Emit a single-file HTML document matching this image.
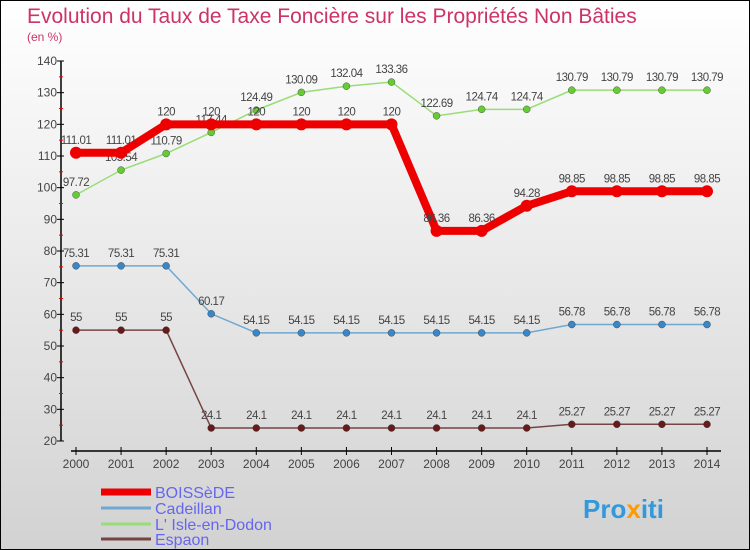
<!DOCTYPE html>
<html><head><meta charset="utf-8"><style>
body{margin:0;}
#wrap{width:750px;height:550px;position:relative;box-sizing:border-box;border:1px solid #000;background:linear-gradient(#ffffff,#d2d2d2);font-family:"Liberation Sans",sans-serif;overflow:hidden}
svg text{font-family:"Liberation Sans",sans-serif}
</style></head><body>
<div id="wrap">
<svg id="c" width="750" height="550">
<text x="26" y="22" font-size="21" fill="#cc3366">Evolution du Taux de Taxe Foncière sur les Propriétés Non Bâties</text>
<text x="26" y="40" font-size="12" fill="#cc3366">(en %)</text>
<g id="axes"></g><g id="series"></g><g id="legend"></g>
<text x="582" y="517" font-size="26" font-weight="bold" fill="#3399dd">Pro<tspan fill="#ff9900">x</tspan>iti</text>
</svg></div>
<script>
const years=[2000,2001,2002,2003,2004,2005,2006,2007,2008,2009,2010,2011,2012,2013,2014];
const yTicks=[20,30,40,50,60,70,80,90,100,110,120,130,140];
const boissede=[111.01,111.01,120,120,120,120,120,120,86.36,86.36,94.28,98.85,98.85,98.85,98.85];
const cadeillan=[75.31,75.31,75.31,60.17,54.15,54.15,54.15,54.15,54.15,54.15,54.15,56.78,56.78,56.78,56.78];
const isle=[97.72,105.54,110.79,117.44,124.49,130.09,132.04,133.36,122.69,124.74,124.74,130.79,130.79,130.79,130.79];
const espaon=[55,55,55,24.1,24.1,24.1,24.1,24.1,24.1,24.1,24.1,25.27,25.27,25.27,25.27];
const seriesNames=["BOISSèDE","Cadeillan","L' Isle-en-Dodon","Espaon"];
const NS="http://www.w3.org/2000/svg";
const X=i=>75+i*(706-75)/(years.length-1);
const Y=v=>440-(v-20)*(380/120);
function mk(tag,attrs,parent,txt){const e=document.createElementNS(NS,tag);for(const k in attrs)e.setAttribute(k,attrs[k]);if(txt!==undefined)e.textContent=txt;parent.appendChild(e);return e;}
const ax=document.getElementById('axes');
let yl=mk('line',{x1:60,y1:Y(140),x2:60,y2:Y(20),stroke:'#000','stroke-width':1.5},ax);


yTicks.forEach(t=>{
 mk('line',{x1:56,y1:Y(t),x2:63,y2:Y(t),stroke:'#000'},ax);
 if(t<140) mk('line',{x1:58,y1:Y(t+5),x2:62,y2:Y(t+5),stroke:'#e00'},ax);
 const tx=mk('text',{x:56,y:Y(t)+4,'font-size':12,fill:'#444','text-anchor':'end'},ax,t);
 
 
});
let xl=mk('line',{x1:70,y1:450,x2:720,y2:450,stroke:'#000','stroke-width':1.5},ax);


years.forEach((y,i)=>{
 mk('line',{x1:X(i),y1:446,x2:X(i),y2:454,stroke:'#000'},ax);
 const tx=mk('text',{x:X(i),y:467,'font-size':12,fill:'#444','text-anchor':'middle'},ax,y);
 
 
});
const sg=document.getElementById('series');
const cfg=[
 {d:boissede,c:'#ee0000',w:8,r:6,dot:'#ee0000',name:'series-boissede'},
 {d:cadeillan,c:'#6fa8d0',w:1.5,r:3.5,dot:'#3a86c6',name:'series-cadeillan'},
 {d:isle,c:'#99dd77',w:1.5,r:3.5,dot:'#66cc33',name:'series-isle-en-dodon'},
 {d:espaon,c:'#774444',w:1.5,r:3.5,dot:'#661a1a',name:'series-espaon'}];
[1,2,3,0].forEach(k=>{
 const s=cfg[k];
 const g=mk('g',{},sg);
 
 
 mk('polyline',{points:s.d.map((v,i)=>X(i)+','+Y(v)).join(' '),fill:'none',stroke:s.c,'stroke-width':s.w},g);
 s.d.forEach((v,i)=>{
  const p=mk('circle',{cx:X(i),cy:Y(v),r:s.r,fill:s.dot,stroke:k==0?'none':'#333','stroke-width':0.4},g);
  
  
  const t=mk('text',{x:X(i),y:Y(v)-9,'font-size':11.5,fill:'#444','text-anchor':'middle','letter-spacing':'-0.5'},g,String(v));
  
  
 });
});
const lg=document.getElementById('legend');
const ly=[491,507,523,538];
cfg.forEach((s,i)=>{
 const g=mk('g',{},lg);
 
 
 mk('line',{x1:100,y1:ly[i],x2:150,y2:ly[i],stroke:s.c,'stroke-width':i==0?7:3},g);
 mk('text',{x:154,y:ly[i]+6,'font-size':16,fill:'#6666ee'},g,seriesNames[i]);
});
</script>
</body></html>
